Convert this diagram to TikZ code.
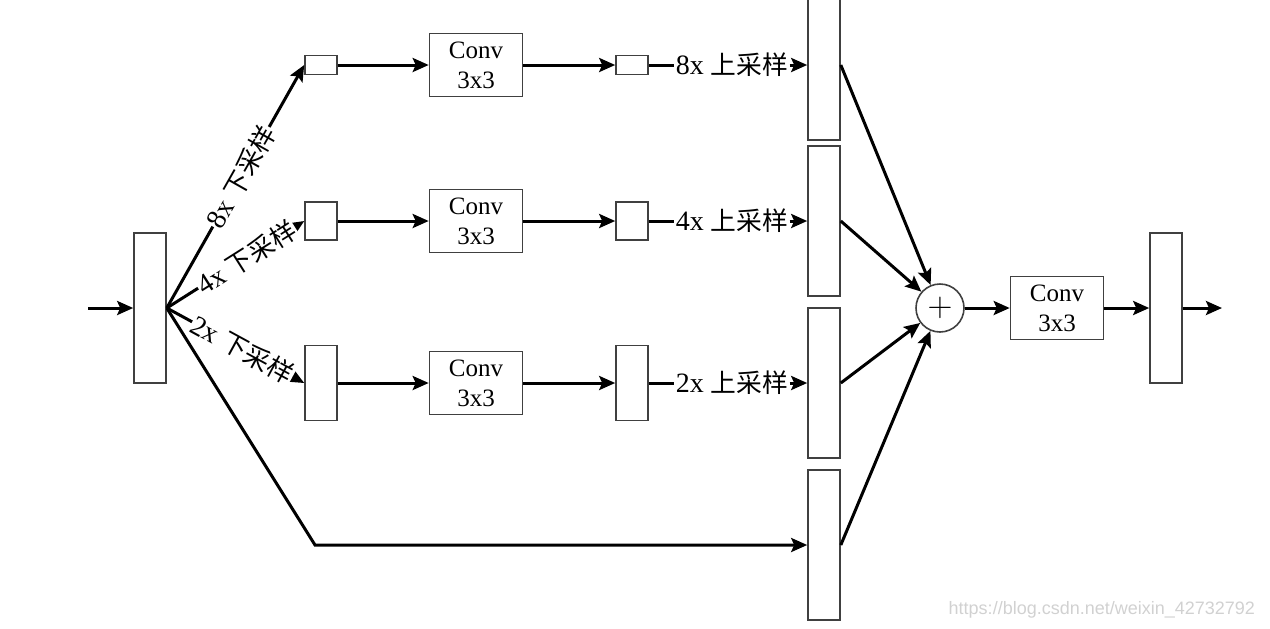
\documentclass[tikz,border=0pt]{standalone}
\usepackage{fontspec}
\setmainfont{Liberation Serif}
\newfontfamily\cjk[Scale=0.92]{Noto Sans CJK SC}
\newfontfamily\wmfont{Liberation Sans}
\usetikzlibrary{arrows.meta, positioning, calc}

\begin{document}
\begin{tikzpicture}[x=0.5pt, y=-0.5pt, font=\fontsize{12.5}{15}\selectfont,
  blk/.style={draw=black!75, line width=0.8pt, inner sep=0pt, minimum width=16pt},
  convbox/.style={draw=black!75, line width=0.8pt, minimum width=46.5pt, minimum height=31.5pt, inner sep=0pt, align=center},
  arr/.style={line width=1.5pt, -{Stealth[length=8pt, width=7pt, inset=1.5pt]}},
  ln/.style={line width=1.5pt},
  lbl/.style={font=\fontsize{14}{16}\selectfont, inner sep=0.5pt, fill=white}]
  \useasboundingbox (0,0) rectangle (1270,628);

  % Input
  \node[blk, minimum height=75pt] (in) at (150,308) {};
  \coordinate (src) at (88,308);
  \draw[arr] (src) -- (in);

  % Down-sampled maps
  \node[blk, minimum height=9.5pt] (d8) at (321,65) {};
  \node[blk, minimum height=19pt] (d4) at (321,221) {};
  \node[blk, minimum height=37.5pt] (d2) at (321,383) {};
  \draw[arr] (in.east) -- node[lbl, sloped, pos=0.54] (l8) {8x {\cjk 下采样}} (d8.west);
  \draw[arr] (in.east) -- node[lbl, sloped, pos=0.58] (l4) {4x {\cjk 下采样}} (d4.west);
  \draw[arr] (in.east) -- node[lbl, sloped, pos=0.55] (l2) {2x {\cjk 下采样}} (d2.west);

  % Conv 3x3 per branch
  \node[convbox] (c8) at (476,65) {Conv\\3x3};
  \node[convbox] (c4) at (476,221) {Conv\\3x3};
  \node[convbox] (c2) at (476,383) {Conv\\3x3};

  % After conv
  \node[blk, minimum height=9.5pt] (u8) at (632,65) {};
  \node[blk, minimum height=19pt] (u4) at (632,221) {};
  \node[blk, minimum height=37.5pt] (u2) at (632,383) {};

  % Up-sampling labels
  \node[lbl] (t8) at (732,65) {8x {\cjk 上采样}};
  \node[lbl] (t4) at (732,221) {4x {\cjk 上采样}};
  \node[lbl] (t2) at (732,383) {2x {\cjk 上采样}};

  % Stacked maps
  \node[blk, minimum height=75pt] (b8) at (824,65) {};
  \node[blk, minimum height=75pt] (b4) at (824,221) {};
  \node[blk, minimum height=75pt] (b2) at (824,383) {};
  \node[blk, minimum height=75pt] (b0) at (824,545) {};

  \foreach \s in {8,4,2} {
    \draw[arr] (d\s) -- (c\s);
    \draw[arr] (c\s) -- (u\s);
    \draw[ln] (u\s) -- (t\s);
    \draw[arr] (t\s) -- (b\s);
  }

  % Identity path
  \coordinate (bend) at (315,545);
  \draw[arr] (in.east) -- (bend) -- (b0.west);

  % Fusion
  \node[draw=black!75, line width=0.8pt, circle, minimum size=24pt, inner sep=0pt, font=\fontsize{18}{18}\selectfont] (plus) at (940,308) {$+$};
  \foreach \b in {b8,b4,b2,b0}
    \draw[arr] (\b.east) -- (plus);

  \node[convbox] (cf) at (1057,308) {Conv\\3x3};
  \node[blk, minimum height=75pt] (out) at (1166,308) {};
  \coordinate (dst) at (1222,308);
  \draw[arr] (plus) -- (cf);
  \draw[arr] (cf) -- (out);
  \draw[arr] (out) -- (dst);

  % Watermark
  \node[anchor=east, text=black!18, font=\wmfont\fontsize{9}{10}\selectfont] (wm) at (1262,610) {https://blog.csdn.net/weixin\_42732792};
\end{tikzpicture}
\end{document}
